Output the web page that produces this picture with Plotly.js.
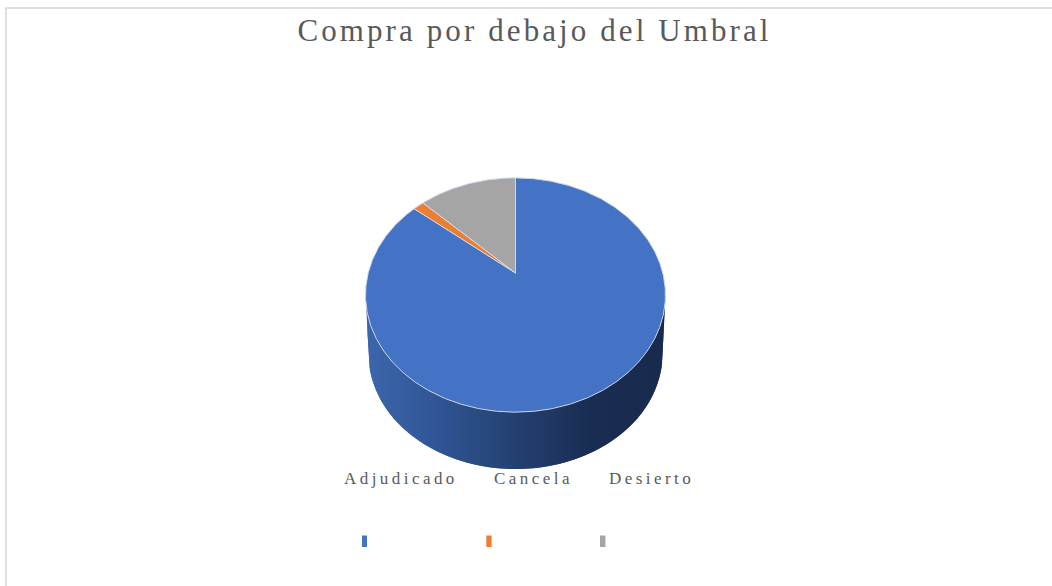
<!DOCTYPE html>
<html>
<head>
<meta charset="utf-8">
<script src="https://cdn.plot.ly/plotly-3.0.1.min.js"></script>
<style>
html,body{margin:0;padding:0;background:#fff}
#chart{width:1052px;height:586px}
.gtitle{letter-spacing:3.1px}
.annotation-text{letter-spacing:3.45px}
</style>
</head>
<body>
<div id="chart"></div>
<script>
// Data (shares, %)
const chartTitle = "Compra por debajo del Umbral";
const categories = ["Adjudicado", "Cancela", "Desierto"];
const shares = [86.0, 1.4, 12.6];
const sliceColors = ["#4472c4", "#ed7d31", "#a5a5a5"];

// Drawing geometry, in pixels of the page
const W = 1052, H = 586;
const apex = {x: 515.5, y: 273};
const persp = {a: 147.3, b: 113, k: 0.188};
const topEll = {cx: 515.5, cy: 295, rx: 150, ry: 117};
const botEll = {cx: 515.5, cy: 354, rx: 147, ry: 115};
const wallStops = [[0, [60,103,173]], [0.25, [47,84,147]], [0.5, [36,64,112]], [0.75, [26,45,82]], [1, [24,42,77]]];
const labelX = [344, 494, 609];
const labelY = 478;
const swatchX = [[362, 367], [486.3, 491.6], [600, 605.4]];
const swatchY = [535.5, 547];

function project(theta) {           // theta clockwise from 12 o'clock
  const u = Math.sin(theta), v = Math.cos(theta), d = 1 + persp.k * v;
  return [apex.x + persp.a * u / d, apex.y - persp.b * v / d];
}
function stopColor(t) {
  for (let i = 1; i < wallStops.length; i++) {
    if (t <= wallStops[i][0]) {
      const [t0, c0] = wallStops[i-1], [t1, c1] = wallStops[i];
      const f = (t - t0) / (t1 - t0);
      return "rgb(" + c0.map((c, j) => Math.round(c + (c1[j] - c) * f)).join(",") + ")";
    }
  }
  return "rgb(" + wallStops[wallStops.length-1][1].join(",") + ")";
}
const lowerY = (e, x) => e.cy + e.ry * Math.sqrt(Math.max(0, 1 - ((x - e.cx) / e.rx) ** 2));
function wallBottom(x) {
  const dx = Math.abs(x - botEll.cx);
  return dx <= botEll.rx
    ? lowerY(botEll, x)
    : topEll.cy + (topEll.rx - dx) / (topEll.rx - botEll.rx) * (botEll.cy - topEll.cy);
}

const traces = [];

// Side wall: overlapping filled bands between the lower edges of the two ellipses,
// each one painted over the overlap of the previous one so no seams show
const left = topEll.cx - topEll.rx, right = topEll.cx + topEll.rx;
const bandW = 2;
for (let x = left; x < right; x += bandW) {
  const xs = [];
  for (let p = x; p < Math.min(x + 2 * bandW, right); p += 0.5) xs.push(p);
  xs.push(Math.min(x + 2 * bandW, right));
  const polyX = xs.concat(xs.slice().reverse(), [xs[0]]);
  const polyY = xs.map(wallBottom).concat(xs.slice().reverse().map(p => lowerY(topEll, p) - 2), [wallBottom(xs[0])]);
  traces.push({
    type: "scatter", mode: "lines", hoverinfo: "skip", showlegend: false,
    x: polyX, y: polyY, fill: "toself",
    fillcolor: stopColor((x - left) / (right - left)),
    line: {width: 0}
  });
}

// Top face: slices, clockwise from 12 o'clock, built from the shares
const total = shares.reduce((a, b) => a + b, 0);
let start = 0;
categories.forEach((name, i) => {
  const end = start + shares[i] / total * 2 * Math.PI;
  const n = Math.max(3, Math.ceil((end - start) / 0.01));
  const xs = [apex.x], ys = [apex.y];
  for (let j = 0; j <= n; j++) {
    const p = project(start + (end - start) * j / n);
    xs.push(p[0]); ys.push(p[1]);
  }
  xs.push(apex.x); ys.push(apex.y);
  traces.push({
    type: "scatter", mode: "lines", name: name, showlegend: false,
    hovertemplate: name + ": " + shares[i] + "%<extra></extra>",
    x: xs, y: ys, fill: "toself", fillcolor: sliceColors[i],
    line: {color: "#cdd8ec", width: 1}
  });
  start = end;
});

const shapes = [
  {type: "line", x0: 6, x1: 6, y0: 8, y1: H, line: {color: "#d9d9d9", width: 1.6}},
  {type: "line", x0: 5, x1: W, y0: 8, y1: 8, line: {color: "#d9d9d9", width: 1.6}}
];
categories.forEach((c, i) => shapes.push({
  type: "rect", x0: swatchX[i][0], x1: swatchX[i][1], y0: swatchY[0], y1: swatchY[1],
  fillcolor: sliceColors[i], line: {width: 0}
}));

const annotations = categories.map((c, i) => ({
  text: c, x: labelX[i], y: labelY, xref: "x", yref: "y",
  xanchor: "left", yanchor: "middle", showarrow: false, borderpad: 0, borderwidth: 0,
  font: {family: "Liberation Serif", size: 17, color: "#595959"}
}));

const layout = {
  width: W, height: H, autosize: false, showlegend: false,
  paper_bgcolor: "#ffffff", plot_bgcolor: "#ffffff",
  margin: {l: 0, r: 0, t: 0, b: 0},
  title: {text: chartTitle, x: 534.5 / W, xanchor: "center", y: 1 - 30 / H, yanchor: "middle",
          font: {family: "Liberation Serif", size: 31, color: "#595959"}},
  xaxis: {range: [0, W], visible: false, fixedrange: true},
  yaxis: {range: [H, 0], visible: false, fixedrange: true},
  shapes: shapes, annotations: annotations
};
Plotly.newPlot("chart", traces, layout, {displayModeBar: false});
</script>
</body>
</html>
